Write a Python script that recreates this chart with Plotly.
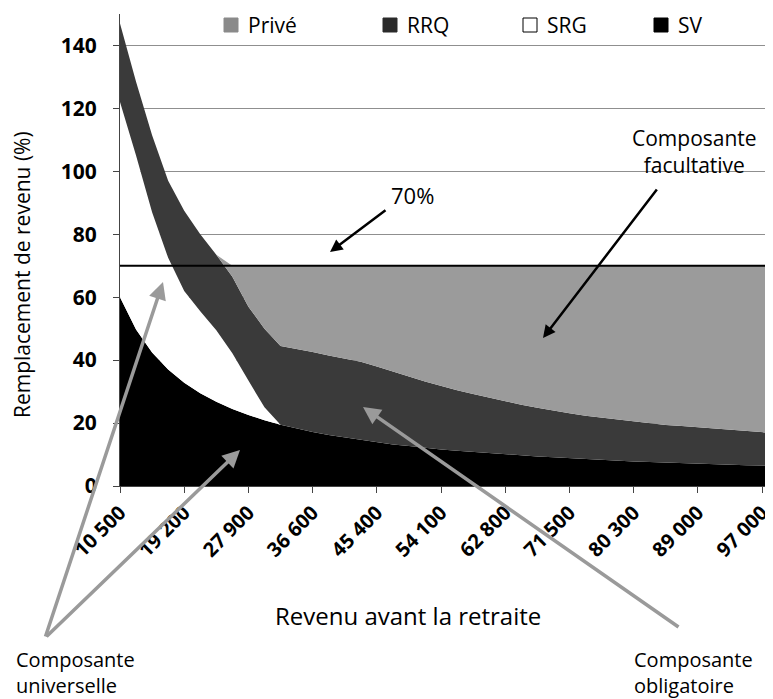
import plotly.graph_objects as go

# ---------------- data ----------------
revenus = [10500, 12675, 14850, 17025, 19200, 21375, 23550, 25725, 27900, 30075,
           32250, 34425, 36600, 38800, 41000, 43200, 45400, 47575, 49750, 51925,
           54100, 56275, 58450, 60625, 62800, 64975, 67150, 69325, 71500, 73700,
           75900, 78100, 80300, 82475, 84650, 86825, 89000, 91000, 93000, 95000,
           97000, 99000]

sv = [60.0, 49.7, 42.4, 37.0, 32.8, 29.5, 26.8, 24.5, 22.6, 20.9,
      19.5, 18.3, 17.2, 16.2, 15.4, 14.6, 13.9, 13.2, 12.7, 12.1,
      11.6, 11.2, 10.8, 10.4, 10.0, 9.7, 9.4, 9.1, 8.8, 8.5,
      8.3, 8.1, 7.8, 7.6, 7.4, 7.3, 7.1, 6.9, 6.8, 6.6,
      6.5, 6.4]

srg = [62.0, 55.3, 44.6, 35.5, 29.2, 26.0, 22.7, 17.7, 10.9, 4.1,
       0, 0, 0, 0, 0, 0, 0, 0, 0, 0,
       0, 0, 0, 0, 0, 0, 0, 0, 0, 0,
       0, 0, 0, 0, 0, 0, 0, 0, 0, 0,
       0, 0]

rrq = [25.0, 23.5, 24.5, 24.5, 25.5, 24.5, 24.0, 24.3, 23.5, 25.0,
       25.0, 25.3, 25.4, 25.3, 25.1, 24.9, 24.1, 23.1, 22.1, 21.1,
       20.1, 19.2, 18.4, 17.6, 16.8, 16.1, 15.5, 14.8, 14.3, 13.8,
       13.4, 13.0, 12.7, 12.3, 12.0, 11.8, 11.6, 11.4, 11.1, 10.9,
       10.5, 10.3]

prive = [0, 0, 0, 0, 0, 0, 0, 3.5, 13.0, 20.0,
         25.5, 26.4, 27.4, 28.5, 29.5, 30.5, 32.0, 33.7, 35.2, 36.8,
         38.3, 39.6, 40.8, 42.0, 43.2, 44.2, 45.1, 46.1, 46.9, 47.7,
         48.3, 48.9, 49.5, 50.1, 50.6, 50.9, 51.3, 51.7, 52.1, 52.5,
         53.0, 53.3]

tick_revenus = [10500, 19200, 27900, 36600, 45400, 54100, 62800, 71500, 80300, 89000, 97000]
tick_labels = ["10 500", "19 200", "27 900", "36 600", "45 400", "54 100",
               "62 800", "71 500", "80 300", "89 000", "97 000"]
y_ticks = [0, 20, 40, 60, 80, 100, 120, 140]
seuil = 70

series_names = ["SV", "SRG", "RRQ", "Privé"]
series_vals = [sv, srg, rrq, prive]
fill_colors = ["#000000", "#ffffff", "#3a3a3a", "#9b9b9b"]

FONT = "Open Sans"
OFF = 8                      # page body margin of the browser
W, H = 773 - OFF, 699 - OFF
ML, MR, MT = 120 - OFF, 0, 14 - OFF
MB = H - (486 - OFF)
PW, PH = W - ML - MR, H - MT - MB


def px(x):
    """screen x (px) -> paper fraction"""
    return (x - OFF - ML) / PW


def py(y):
    """screen y (px) -> paper fraction"""
    return (H - MB - (y - OFF)) / PH


fig = go.Figure()
for name, vals, col in zip(series_names, series_vals, fill_colors):
    fig.add_trace(go.Scatter(
        x=revenus, y=vals, name=name, stackgroup="one", mode="lines",
        line=dict(width=0, color=col), fillcolor=col, showlegend=False,
        hoverinfo="x+y+name"))

fig.add_shape(type="line", xref="paper", yref="y", x0=0, x1=1, y0=seuil, y1=seuil,
              line=dict(color="black", width=2), layer="above")

# legend drawn as squares + labels (one row, Excel-like spacing)
legend_items = [("Privé", "#8a8a8a", "#8a8a8a", 224),
                ("RRQ", "#2a2a2a", "#2a2a2a", 383),
                ("SRG", "#ffffff", "#000000", 523),
                ("SV", "#000000", "#000000", 654)]
annotations = []
for name, col, lcol, x0 in legend_items:
    fig.add_shape(type="rect", xref="paper", yref="paper",
                  x0=px(x0), x1=px(x0 + 14), y0=py(32), y1=py(18),
                  fillcolor=col, line=dict(color=lcol, width=1))
    annotations.append(dict(x=px(x0 + 22), y=py(25), text=name, showarrow=False,
                            xanchor="left", yanchor="middle",
                            font=dict(family=FONT, size=21, color="black")))


def label(text, x, y, xanchor="center", size=22, **kw):
    return dict(x=px(x), y=py(y), text=text, showarrow=False, xanchor=xanchor,
                yanchor="middle", font=dict(family=FONT, size=size, color="black"), **kw)


arrow_black = dict(arrowhead=2, arrowsize=1, arrowwidth=2.5, arrowcolor="black")
arrow_grey = dict(arrowhead=2, arrowsize=1, arrowwidth=3.5, arrowcolor="#9a9a9a")
annotations += [
    label("70%", 412, 195),
    dict(x=px(330), y=py(252), text="", showarrow=True, ax=57, ay=-43, **arrow_black),
    label("Composante<br>facultative", 694, 151, size=21),
    dict(x=px(543), y=py(338), text="", showarrow=True, ax=115, ay=-150, **arrow_black),
    dict(x=px(163), y=py(282), text="", showarrow=True, ax=-118, ay=356, **arrow_grey),
    dict(x=px(240), y=py(450), text="", showarrow=True, ax=-195, ay=188, **arrow_grey),
    dict(x=px(363), y=py(407), text="", showarrow=True, ax=317, ay=221, **arrow_grey),
    label("Composante<br>universelle", 14, 672, xanchor="left", size=20, align="left"),
    label("Composante<br>obligatoire", 632, 672, xanchor="left", size=20, align="left"),
    label("Revenu avant la retraite", 408, 615, size=24),
    label("Remplacement de revenu (%)", 22, 275, size=21, textangle=-90),
]
for a in annotations:
    a.setdefault("xref", "paper")
    a.setdefault("yref", "paper")

fig.update_layout(
    width=W, height=H,
    margin=dict(l=ML, r=MR, t=MT, b=MB, autoexpand=False),
    paper_bgcolor="white", plot_bgcolor="white",
    font=dict(family=FONT, color="black"),
    showlegend=False,
    annotations=annotations,
    xaxis=dict(type="category", categoryorder="array", categoryarray=revenus,
               range=[0, 40.68], tickmode="array", tickvals=tick_revenus,
               ticktext=tick_labels, tickangle=-45, ticks="outside", ticklen=6,
               tickcolor="#444", showline=True, linecolor="#444", showgrid=False,
               automargin=False,
               tickfont=dict(family=FONT, size=20, color="black", weight="bold")),
    yaxis=dict(range=[0, 150], tickmode="array", tickvals=y_ticks, ticks="outside",
               ticklen=6, tickcolor="#444", showline=True, linecolor="#444",
               showgrid=True, gridcolor="#8f8f8f", gridwidth=1, zeroline=False,
               automargin=False, ticklabelstandoff=12,
               tickfont=dict(family=FONT, size=21, color="black", weight="bold")),
)

fig.write_html("out.html")
